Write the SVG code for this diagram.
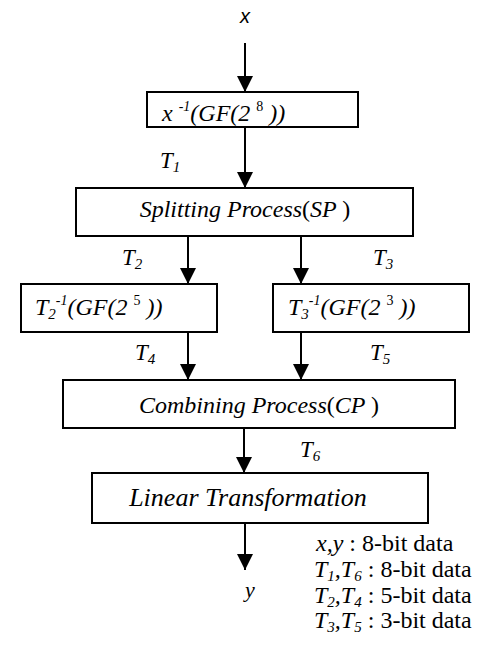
<svg xmlns="http://www.w3.org/2000/svg" width="484" height="654" viewBox="0 0 484 654">
<style>
.box{fill:#fff;stroke:#000;stroke-width:2}
.t{font-style:italic;fill:#000}
.u{font-style:normal}
.c{stroke:#000;stroke-width:2;fill:none}
</style>
<defs>
<marker id="ah" markerWidth="16" markerHeight="16" viewBox="0 0 16 16" refX="16" refY="8" orient="auto" markerUnits="userSpaceOnUse">
<path d="M0,0 L16,8 L0,16 Z" fill="#000"/>
</marker>
</defs>
<rect width="484" height="654" fill="#fff"/>
<g id="connectors" font-family="'Liberation Serif','Times New Roman',serif">
<line class="c" x1="245" y1="43" x2="245" y2="92" marker-end="url(#ah)"/>
<line class="c" x1="245" y1="127" x2="245" y2="188" marker-end="url(#ah)"/>
<line class="c" x1="188" y1="236" x2="188" y2="284" marker-end="url(#ah)"/>
<line class="c" x1="301" y1="236" x2="301" y2="284" marker-end="url(#ah)"/>
<line class="c" x1="188" y1="332" x2="188" y2="380" marker-end="url(#ah)"/>
<line class="c" x1="301" y1="332" x2="301" y2="380" marker-end="url(#ah)"/>
<line class="c" x1="244" y1="428" x2="244" y2="473" marker-end="url(#ah)"/>
<line class="c" x1="245" y1="523" x2="245" y2="570" marker-end="url(#ah)"/>
<text class="t" x="160" y="168" font-size="23">T<tspan font-size="15" dy="4">1</tspan></text>
<text class="t" x="122" y="265" font-size="23">T<tspan font-size="15" dy="4">2</tspan></text>
<text class="t" x="373" y="265" font-size="23">T<tspan font-size="15" dy="4">3</tspan></text>
<text class="t" x="135" y="360" font-size="23">T<tspan font-size="15" dy="4">4</tspan></text>
<text class="t" x="370" y="360" font-size="23">T<tspan font-size="15" dy="4">5</tspan></text>
<text class="t" x="300" y="457" font-size="23">T<tspan font-size="15" dy="4">6</tspan></text>
</g>
<g id="input">
<text x="245" y="23" font-family="'Liberation Sans',Arial,sans-serif" font-style="italic" font-size="20" text-anchor="middle">x</text>
</g>
<g id="inverse8" font-family="'Liberation Serif','Times New Roman',serif">
<rect class="box" x="147" y="92" width="211" height="35"/>
<text class="t" x="162" y="121" font-size="24">x <tspan font-size="14" dy="-10">-1</tspan><tspan dy="10">(GF(2 </tspan><tspan class="u" font-size="14" dy="-10">8</tspan><tspan dy="10"> ))</tspan></text>
</g>
<g id="splitting" font-family="'Liberation Serif','Times New Roman',serif">
<rect class="box" x="76" y="188" width="337" height="48"/>
<text class="t" x="245" y="217" font-size="24" text-anchor="middle">Splitting Process<tspan class="u">(</tspan>SP <tspan class="u">)</tspan></text>
</g>
<g id="inverse5" font-family="'Liberation Serif','Times New Roman',serif">
<rect class="box" x="21" y="284" width="196" height="48"/>
<text class="t" x="35" y="315" font-size="24">T<tspan font-size="15" dy="4">2</tspan><tspan font-size="14" dy="-14">-1</tspan><tspan dy="10">(GF(2 </tspan><tspan class="u" font-size="14" dy="-10">5</tspan><tspan dy="10"> ))</tspan></text>
</g>
<g id="inverse3" font-family="'Liberation Serif','Times New Roman',serif">
<rect class="box" x="273" y="284" width="196" height="48"/>
<text class="t" x="288" y="315" font-size="24">T<tspan font-size="15" dy="4">3</tspan><tspan font-size="14" dy="-14">-1</tspan><tspan dy="10">(GF(2 </tspan><tspan class="u" font-size="14" dy="-10">3</tspan><tspan dy="10"> ))</tspan></text>
</g>
<g id="combining" font-family="'Liberation Serif','Times New Roman',serif">
<rect class="box" x="63" y="380" width="392" height="48"/>
<text class="t" x="259" y="413" font-size="24" text-anchor="middle">Combining Process<tspan class="u">(</tspan>CP <tspan class="u">)</tspan></text>
</g>
<g id="linear" font-family="'Liberation Serif','Times New Roman',serif">
<rect class="box" x="92" y="473" width="336" height="50"/>
<text class="t" x="248" y="506" font-size="26" text-anchor="middle">Linear Transformation</text>
</g>
<g id="output" font-family="'Liberation Serif','Times New Roman',serif">
<text class="t" x="250" y="597" font-size="22" text-anchor="middle">y</text>
</g>
<g id="legend" font-family="'Liberation Serif','Times New Roman',serif" font-size="24">
<text x="316" y="551"><tspan font-style="italic">x,y</tspan> : 8-bit data</text>
<text x="314" y="577"><tspan font-style="italic">T<tspan font-size="15" dy="4">1</tspan><tspan dy="-4">,T</tspan><tspan font-size="15" dy="4">6</tspan></tspan><tspan dy="-4"> : 8-bit data</tspan></text>
<text x="314" y="603"><tspan font-style="italic">T<tspan font-size="15" dy="4">2</tspan><tspan dy="-4">,T</tspan><tspan font-size="15" dy="4">4</tspan></tspan><tspan dy="-4"> : 5-bit data</tspan></text>
<text x="314" y="628"><tspan font-style="italic">T<tspan font-size="15" dy="4">3</tspan><tspan dy="-4">,T</tspan><tspan font-size="15" dy="4">5</tspan></tspan><tspan dy="-4"> : 3-bit data</tspan></text>
</g>
</svg>
